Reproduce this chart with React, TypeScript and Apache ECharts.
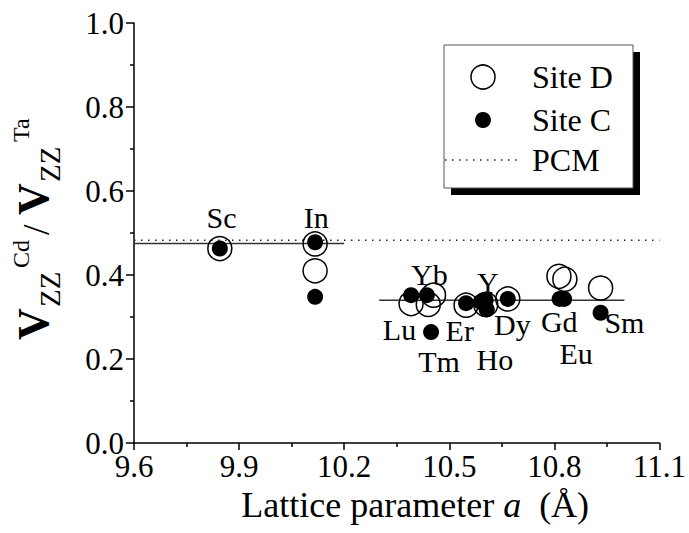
import React, { useEffect, useRef } from "react";
import * as echarts from "echarts";

// Lattice parameter a (Å) vs. V_ZZ(Cd)/V_ZZ(Ta) for the bixbyite oxides
const siteD: [number, number][] = [
  [9.845, 0.463],
  [10.117, 0.474],
  [10.117, 0.41],
  [10.391, 0.332],
  [10.44, 0.33],
  [10.455, 0.352],
  [10.548, 0.328],
  [10.604, 0.33],
  [10.667, 0.343],
  [10.813, 0.397],
  [10.83, 0.39],
  [10.932, 0.369],
];

const siteC: [number, number][] = [
  [9.845, 0.463],
  [10.117, 0.478],
  [10.117, 0.348],
  [10.391, 0.352],
  [10.436, 0.352],
  [10.448, 0.264],
  [10.548, 0.333],
  [10.59, 0.336],
  [10.604, 0.34],
  [10.607, 0.318],
  [10.667, 0.343],
  [10.815, 0.343],
  [10.828, 0.343],
  [10.932, 0.31],
];

const elementNames = ["Sc", "In", "Lu", "Yb", "Tm", "Er", "Y", "Ho", "Dy", "Gd", "Eu", "Sm"];
const labelA = [9.85, 10.12, 10.358, 10.443, 10.471, 10.53, 10.61, 10.63, 10.68, 10.814, 10.862, 11.0];
const labelV = [0.538, 0.538, 0.271, 0.402, 0.193, 0.269, 0.383, 0.198, 0.281, 0.29, 0.212, 0.288];

const pcmValue = 0.483;
const fitScIn: [number, number][] = [
  [9.6, 0.475],
  [10.2, 0.475],
];
const fitRareEarth: [number, number][] = [
  [10.3, 0.34],
  [11.0, 0.34],
];

const xTicks = { min: 9.6, max: 11.1, step: 0.3 };
const yTicks = { min: 0, max: 1, step: 0.2 };

const FONT = "'Liberation Serif', 'Times New Roman', serif";

export default function App() {
  const ref = useRef<HTMLDivElement>(null);

  useEffect(() => {
    if (!ref.current) return;
    const chart = echarts.init(ref.current, undefined, { renderer: "svg" });

    const labelData = elementNames.map((n, i) => ({ name: n, value: [labelA[i], labelV[i]] }));
    const txt = (text: string, x: number, y: number, font: string) => ({
      type: "text",
      x,
      y,
      style: { text, font, fill: "#000", textVerticalAlign: "bottom" },
    });

    const option: echarts.EChartsOption = {
      animation: false,
      backgroundColor: "#fff",
      textStyle: { fontFamily: FONT, color: "#000" },
      grid: { left: 134, right: 26, top: 23, bottom: 90, containLabel: false },
      xAxis: {
        type: "value",
        min: xTicks.min,
        max: xTicks.max,
        interval: xTicks.step,
        axisLine: { lineStyle: { color: "#000", width: 1.5 } },
        axisTick: { length: 7, lineStyle: { color: "#000", width: 1.5 } },
        minorTick: { show: true, splitNumber: 2, length: 4, lineStyle: { color: "#000", width: 1.5 } },
        splitLine: { show: false },
        axisLabel: {
          margin: 10,
          fontSize: 31,
          lineHeight: 26,
          fontFamily: FONT,
          color: "#000",
          formatter: (v: number) => v.toFixed(1),
        },
        name: "{n|Lattice parameter }{i|a}{n|  (Å)}",
        nameLocation: "middle",
        nameGap: 44,
        nameTextStyle: {
          padding: [0, 0, 0, 37],
          rich: {
            n: { fontSize: 36, fontFamily: FONT, color: "#000" },
            i: { fontSize: 36, fontFamily: FONT, fontStyle: "italic", color: "#000" },
          },
        },
      },
      yAxis: {
        type: "value",
        min: yTicks.min,
        max: yTicks.max,
        interval: yTicks.step,
        axisLine: { show: true, lineStyle: { color: "#000", width: 1.5 } },
        axisTick: { show: true, length: 8, lineStyle: { color: "#000", width: 1.5 } },
        minorTick: { show: true, splitNumber: 2, length: 4, lineStyle: { color: "#000", width: 1.5 } },
        splitLine: { show: false },
        axisLabel: {
          margin: 10,
          fontSize: 31,
          lineHeight: 22,
          padding: [0, 0, 2, 0],
          fontFamily: FONT,
          color: "#000",
          formatter: (v: number) => v.toFixed(1),
        },
      },
      series: [
        {
          name: "PCM",
          type: "line",
          data: [
            [xTicks.min, pcmValue],
            [xTicks.max, pcmValue],
          ],
          symbol: "none",
          lineStyle: { color: "#222", width: 1.5, type: [1.5, 5.5] },
          z: 1,
        },
        {
          name: "fitScIn",
          type: "line",
          data: fitScIn,
          symbol: "none",
          lineStyle: { color: "#333", width: 1.5 },
          z: 1,
        },
        {
          name: "fitRE",
          type: "line",
          data: fitRareEarth,
          symbol: "none",
          lineStyle: { color: "#333", width: 1.5 },
          z: 1,
        },
        {
          name: "Site C",
          type: "scatter",
          data: siteC,
          symbol: "circle",
          symbolSize: 16,
          itemStyle: { color: "#000", opacity: 1 },
          z: 3,
        },
        {
          name: "Site D",
          type: "scatter",
          data: siteD,
          symbol: "circle",
          symbolSize: 24,
          itemStyle: { color: "transparent", borderColor: "#000", borderWidth: 1.5, opacity: 1 },
          z: 4,
        },
        {
          name: "labels",
          type: "scatter",
          data: labelData,
          symbolSize: 0,
          itemStyle: { opacity: 1 },
          label: {
            show: true,
            position: "inside",
            formatter: "{b}",
            fontSize: 30,
            fontFamily: FONT,
            color: "#000",
            opacity: 1,
            textBorderWidth: 0,
          },
          z: 5,
        },
      ],
      graphic: [
        // y-axis title: V_ZZ^Cd / V_ZZ^Ta, read bottom to top
        {
          type: "group",
          x: 55,
          y: 340,
          rotation: Math.PI / 2,
          children: [
            txt("V", 0, 0, `bold 44px ${FONT}`),
            txt("ZZ", 33, 9, `29px ${FONT}`),
            txt("Cd", 72, -22, `24px ${FONT}`),
            txt("/", 105, 0, `38px ${FONT}`),
            txt("V", 125, 0, `bold 44px ${FONT}`),
            txt("ZZ", 158, 9, `29px ${FONT}`),
            txt("Ta", 198, -22, `24px ${FONT}`),
          ],
        },
        // legend box with drop shadow
        { type: "rect", shape: { x: 451, y: 52, width: 189, height: 143 }, style: { fill: "#000" }, z: 10 },
        { type: "rect", shape: { x: 444, y: 45, width: 189, height: 143 }, style: { fill: "#fff", stroke: "#555", lineWidth: 1 }, z: 11 },
        { type: "circle", shape: { cx: 483, cy: 77, r: 12 }, style: { fill: "#fff", stroke: "#000", lineWidth: 1.5 }, z: 12 },
        { type: "circle", shape: { cx: 483, cy: 120, r: 8 }, style: { fill: "#000" }, z: 12 },
        { type: "line", shape: { x1: 445, y1: 160, x2: 519, y2: 160 }, style: { stroke: "#222", lineWidth: 1.5, lineDash: [1.5, 5.5] }, z: 12 },
        { type: "text", x: 532, y: 77, style: { text: "Site D", font: `32px ${FONT}`, fill: "#000", textVerticalAlign: "middle" }, z: 12 },
        { type: "text", x: 532, y: 120, style: { text: "Site C", font: `32px ${FONT}`, fill: "#000", textVerticalAlign: "middle" }, z: 12 },
        { type: "text", x: 532, y: 160, style: { text: "PCM", font: `32px ${FONT}`, fill: "#000", textVerticalAlign: "middle" }, z: 12 },
      ],
    };

    chart.setOption(option);
    return () => chart.dispose();
  }, []);

  return <div ref={ref} style={{ position: "fixed", left: 0, top: 0, width: 689, height: 533 }} />;
}
